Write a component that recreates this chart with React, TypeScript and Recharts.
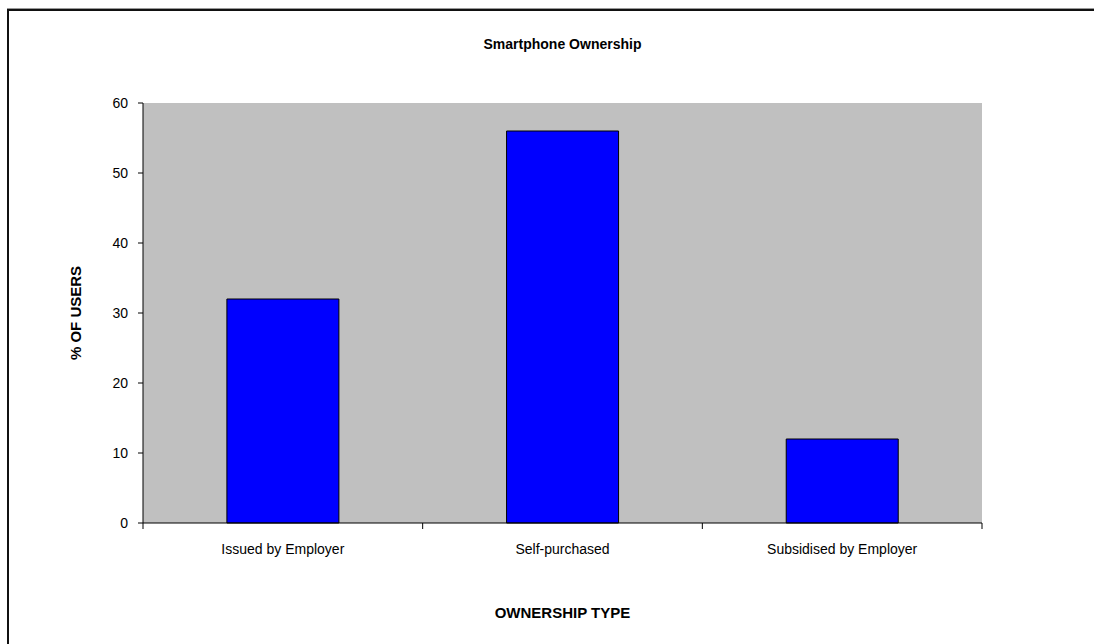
import { Bar, BarChart, CartesianGrid, XAxis, YAxis } from 'recharts'

const categories = ['Issued by Employer', 'Self-purchased', 'Subsidised by Employer']
const userShare = [32, 56, 12]
const yTicks = [0, 10, 20, 30, 40, 50, 60]

const data = categories.map((label, i) => ({ label, users: userShare[i] }))

const W = 1094
const H = 644
const PLOT_LEFT = 143
const PLOT_RIGHT = 982
const PLOT_TOP = 103
const PLOT_BOTTOM = 523
const BAND = (PLOT_RIGHT - PLOT_LEFT) / categories.length
const font = '"Liberation Sans", Arial, sans-serif'

// ticks sit on the category boundaries, like the old office chart
function CategoryTick(props: any) {
  const { x, y, payload, index } = props
  const left = x - BAND / 2
  const top = y - 8
  return (
    <g>
      <line x1={left} y1={top} x2={left} y2={top + 6} stroke="#000" />
      {index === categories.length - 1 ? <line x1={left + BAND} y1={top} x2={left + BAND} y2={top + 6} stroke="#000" /> : null}
      <text x={x} y={top + 26} textAnchor="middle" dominantBaseline="central" fontSize={14} fontFamily={font} fill="#000">
        {payload.value}
      </text>
    </g>
  )
}

export default function App() {
  return (
    <div style={{ position: 'absolute', left: 0, top: 0, width: W, height: H, background: '#fff', overflow: 'hidden' }}>
      <div style={{ position: 'absolute', left: 7, top: 9, width: W, height: H, borderLeft: '2px solid #111', borderTop: '2px solid #111', boxShadow: '0 -1px 0 #999' }} />
      <div style={{ position: 'absolute', left: PLOT_LEFT, width: PLOT_RIGHT - PLOT_LEFT, top: 36, textAlign: 'center', fontFamily: font, fontWeight: 'bold', fontSize: 14 }}>
        Smartphone Ownership
      </div>
      <div style={{ position: 'absolute', left: PLOT_LEFT, width: PLOT_RIGHT - PLOT_LEFT, top: 604, textAlign: 'center', fontFamily: font, fontWeight: 'bold', fontSize: 15 }}>
        OWNERSHIP TYPE
      </div>
      <div style={{ position: 'absolute', left: 75, top: 313, transform: 'translate(-50%, -50%) rotate(-90deg)', whiteSpace: 'nowrap', fontFamily: font, fontWeight: 'bold', fontSize: 15 }}>
        % OF USERS
      </div>
      <div style={{ position: 'absolute', left: 0, top: 0 }}>
        <BarChart
          width={W}
          height={H}
          data={data}
          margin={{ top: PLOT_TOP, right: W - PLOT_RIGHT, left: 0, bottom: 0 }}
          barCategoryGap="30%"
        >
          <CartesianGrid fill="#C0C0C0" horizontal={false} vertical={false} />
          <XAxis
            xAxisId="top"
            orientation="top"
            dataKey="label"
            height={0}
            tick={false}
            tickLine={false}
            axisLine={{ stroke: '#808080', strokeWidth: 2 }}
          />
          <XAxis
            dataKey="label"
            height={H - PLOT_BOTTOM}
            tickLine={false}
            axisLine={{ stroke: '#000' }}
            tick={<CategoryTick />}
            interval={0}
          />
          <YAxis
            yAxisId="right"
            orientation="right"
            width={0}
            domain={[0, 60]}
            tick={false}
            tickLine={false}
            axisLine={{ stroke: '#808080', strokeWidth: 2 }}
          />
          <YAxis
            domain={[0, 60]}
            ticks={yTicks}
            width={PLOT_LEFT}
            tickSize={5}
            tickMargin={10}
            tickLine={{ stroke: '#000' }}
            axisLine={{ stroke: '#000' }}
            tick={{ fill: '#000', fontSize: 14, fontFamily: font }}
          />
          <Bar dataKey="users" fill="#0000FF" stroke="#000" strokeWidth={1} isAnimationActive={false} />
        </BarChart>
      </div>
    </div>
  )
}
